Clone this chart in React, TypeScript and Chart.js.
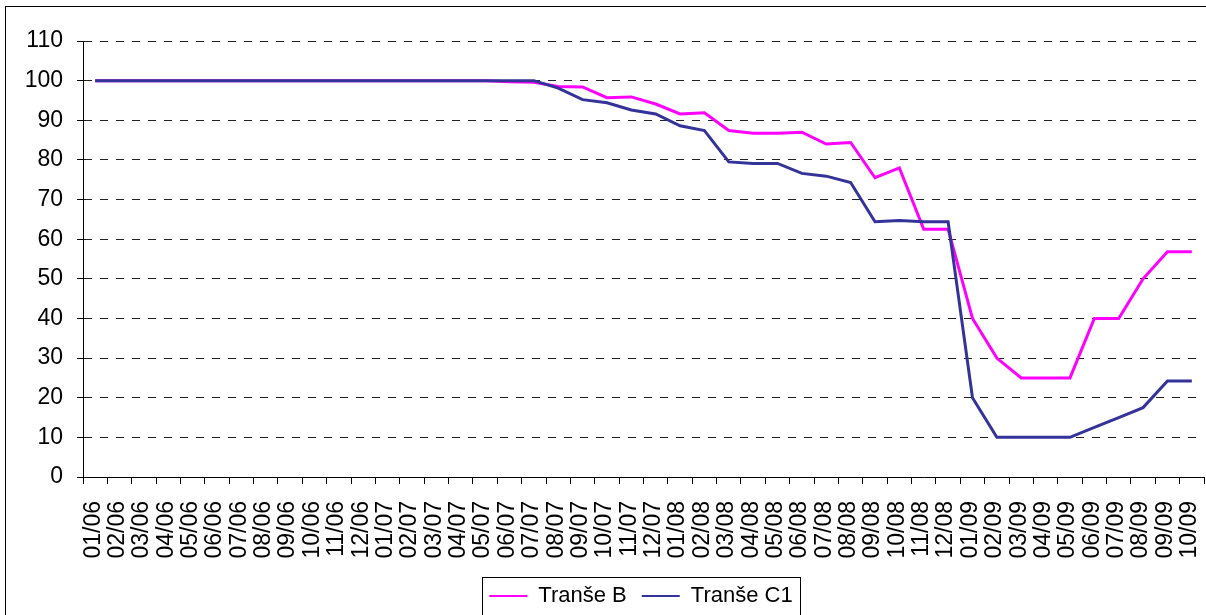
import React, { useEffect, useRef } from "react";
import { Chart, registerables } from "chart.js";

Chart.register(...registerables);

// Monthly observations, Jan 2006 – Oct 2009
const months = [
  "01/06", "02/06", "03/06", "04/06", "05/06", "06/06", "07/06", "08/06", "09/06", "10/06", "11/06", "12/06",
  "01/07", "02/07", "03/07", "04/07", "05/07", "06/07", "07/07", "08/07", "09/07", "10/07", "11/07", "12/07",
  "01/08", "02/08", "03/08", "04/08", "05/08", "06/08", "07/08", "08/08", "09/08", "10/08", "11/08", "12/08",
  "01/09", "02/09", "03/09", "04/09", "05/09", "06/09", "07/09", "08/09", "09/09", "10/09",
];

const trancheB = [
  100, 100, 100, 100, 100, 100, 100, 100, 100, 100, 100, 100,
  100, 100, 100, 100, 100, 99.7, 99.6, 98.5, 98.4, 95.7, 95.9, 94.1,
  91.6, 91.9, 87.4, 86.7, 86.7, 87.0, 84.0, 84.4, 75.5, 78.0, 62.5, 62.5,
  40.0, 30.0, 25.0, 25.0, 25.0, 40.0, 40.0, 50.0, 56.8, 56.8,
];

const trancheC1 = [
  100, 100, 100, 100, 100, 100, 100, 100, 100, 100, 100, 100,
  100, 100, 100, 100, 100, 100, 100, 98.1, 95.2, 94.4, 92.6, 91.6,
  88.6, 87.4, 79.5, 79.1, 79.1, 76.6, 75.9, 74.3, 64.4, 64.7, 64.4, 64.4,
  20.0, 10.0, 10.0, 10.0, 10.0, 12.5, 15.0, 17.5, 24.2, 24.2,
];

const seriesNames = ["Tranše B", "Tranše C1"];
const yTicks = { min: 0, max: 110, step: 10 };

const FONT = "'Liberation Sans', Arial, sans-serif";

// Legend sits right of centre and slightly lower than the default placement
const legendShift = { x: 39, y: 2 };

const legendPlacement = {
  id: "legendPlacement",
  afterLayout(chart: any) {
    const lg = chart.legend;
    if (!lg) return;
    lg.left += legendShift.x;
    lg.right += legendShift.x;
    lg.top += legendShift.y;
    lg.bottom += legendShift.y;
  },
};

// Outer frame around the figure and a bordered box around the legend
const framePlugin = {
  id: "frameAndLegendBox",
  afterDraw(chart: any) {
    const ctx = chart.ctx;
    ctx.save();
    ctx.strokeStyle = "#000";
    ctx.lineWidth = 1;
    ctx.strokeRect(5.5, 6.5, chart.width + 20, chart.height + 20);
    const lg = chart.legend;
    if (lg && lg.legendHitBoxes && lg.legendHitBoxes.length) {
      const hb = lg.legendHitBoxes;
      const left = Math.min(...hb.map((h: any) => h.left)) - 7;
      const right = Math.max(...hb.map((h: any) => h.left + h.width)) + 8;
      const top = hb[0].top - 8;
      const bottom = hb[0].top + hb[0].height + 8;
      ctx.strokeRect(
        Math.round(left) + 0.5,
        Math.round(top) + 0.5,
        Math.round(right - left),
        Math.round(bottom - top)
      );
    }
    ctx.restore();
  },
};

export default function App() {
  const canvasRef = useRef<HTMLCanvasElement | null>(null);

  useEffect(() => {
    if (!canvasRef.current) return;
    const chart = new Chart(canvasRef.current, {
      type: "line",
      data: {
        labels: months,
        datasets: [
          {
            label: seriesNames[0],
            data: trancheB,
            borderColor: "#FF00FF",
            backgroundColor: "#FF00FF",
            borderWidth: 3,
            pointRadius: 0,
            tension: 0,
            order: 0,
          },
          {
            label: seriesNames[1],
            data: trancheC1,
            borderColor: "#333399",
            backgroundColor: "#333399",
            borderWidth: 3,
            pointRadius: 0,
            tension: 0,
            order: -1,
          },
        ],
      },
      options: {
        responsive: false,
        maintainAspectRatio: false,
        animation: false,
        layout: { padding: { top: 41, left: 0, right: 2, bottom: 0 } },
        plugins: {
          tooltip: { enabled: false },
          legend: {
            position: "bottom",
            labels: {
              color: "#000",
              font: { family: FONT, size: 22 },
              usePointStyle: true,
              pointStyle: "line",
              pointStyleWidth: 38,
              padding: 15,
              generateLabels(chart: any) {
                const items = Chart.defaults.plugins.legend.labels.generateLabels(chart);
                return items
                  .map((it: any) => ({ ...it, lineWidth: 2, pointStyle: "line" }))
                  .sort((a: any, b: any) => a.datasetIndex - b.datasetIndex);
              },
            },
          },
        },
        scales: {
          x: {
            offset: true,
            afterFit(scale: any) {
              scale.height = 91;
              scale.paddingLeft = 0;
              scale.paddingRight = 0;
            },
            grid: {
              offset: true,
              drawOnChartArea: false,
              drawTicks: true,
              tickLength: 7,
              color: "#000",
            },
            border: { display: true, color: "#000", width: 1 },
            ticks: {
              autoSkip: false,
              minRotation: 90,
              maxRotation: 90,
              padding: 17,
              labelOffset: -2,
              color: "#000",
              font: { family: FONT, size: 23 },
            },
          },
          y: {
            min: yTicks.min,
            max: yTicks.max,
            afterFit(scale: any) {
              scale.width = 83;
            },
            grid: {
              color: "#222",
              lineWidth: 1,
              drawTicks: true,
              tickLength: 6,
              tickColor: "#000",
            },
            border: { display: true, color: "#000", width: 1, dash: [8, 8] },
            ticks: {
              stepSize: yTicks.step,
              padding: 14,
              color: "#000",
              font: { family: FONT, size: 23 },
            },
          },
        },
      },
      plugins: [legendPlacement, framePlugin],
    } as any);
    return () => chart.destroy();
  }, []);

  return (
    <div style={{ position: "absolute", left: 0, top: 0, width: 1206, height: 615, background: "#fff" }}>
      <canvas ref={canvasRef} width={1206} height={615} style={{ display: "block" }} />
    </div>
  );
}
